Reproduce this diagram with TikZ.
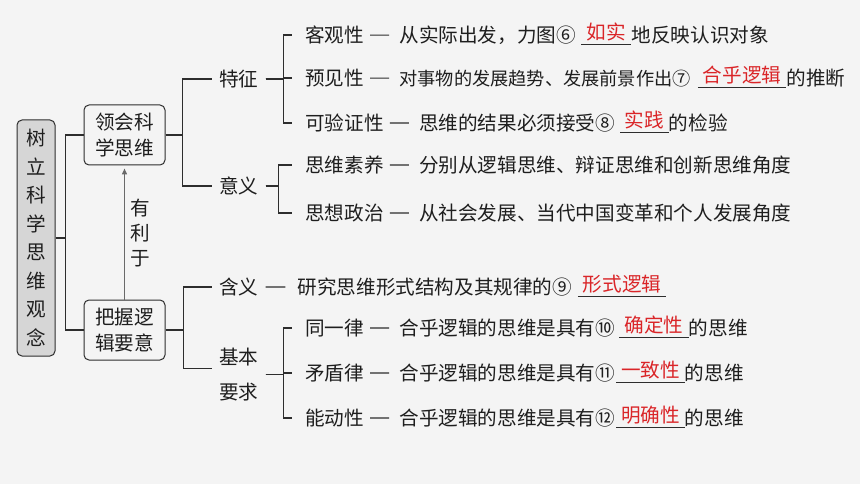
\documentclass[tikz,border=0pt]{standalone}
\usepackage{fontspec}
\setmainfont{Noto Sans CJK SC}
\usetikzlibrary{arrows.meta,positioning}
\definecolor{bgc}{RGB}{244,244,244}
\definecolor{ink}{RGB}{30,30,30}
\definecolor{rule}{RGB}{45,45,45}
\definecolor{ansred}{RGB}{218,37,40}
\definecolor{rootgray}{RGB}{214,214,214}
\definecolor{arrgray}{RGB}{105,105,105}
\newcommand{\fs}[1]{\fontsize{19.6}{#1}\selectfont}
\newcommand{\tian}[1]{\raisebox{3pt}{#1}}

\begin{document}
\begin{tikzpicture}[x=1pt,y=-1pt,font=\fs{24},text=ink,
  box/.style={draw=rule,line width=1pt,rounded corners=5pt,align=center,inner sep=0pt},
  mid/.style={anchor=west,inner xsep=7pt,inner ysep=1pt},
  lab/.style={anchor=west,inner sep=0pt},
  txt/.style={inner sep=0pt},
  ans/.style={inner sep=0pt,minimum width=#1,text=ansred},
  brk/.style={draw=rule,line width=1.1pt},
  dashl/.style={draw=rule,line width=1.1pt,shorten <=6pt,shorten >=10pt},
  uline/.style={draw=rule,line width=0.8pt},
  arr/.style={draw=arrgray,line width=1.4pt,-{Triangle[length=6pt,width=5pt]},shorten >=3pt}]
  \fill[bgc] (0,0) rectangle (860,484);

  \node[box,fill=rootgray,minimum width=38pt,minimum height=236pt,font=\fs{28.5}] (root) at (36,238) {树\\立\\科\\学\\思\\维\\观\\念};
  \node[box,minimum width=81pt,minimum height=60pt,font=\fs{26}] (lh) at (124.5,135) {领会科\\学思维};
  \node[box,minimum width=81pt,minimum height=60pt,font=\fs{26}] (bw) at (124.5,330) {把握逻\\辑要意};
  \node[align=center,inner sep=0pt,font=\fs{25}] (yl) at (140,233) {有\\利\\于};

  \node[mid] (tz) at (212,79)  {特征};
  \node[mid] (yy) at (212,186) {意义};
  \node[mid] (hy) at (212,287) {含义};
  \node[mid,align=left,font=\fs{35}] (jb) at (212,374.5) {基本\\要求};

  % 特征
  \node[lab] (kg)  at (305,35)  {客观性};
  \node[lab] (yj)  at (305,78)  {预见性};
  \node[lab] (kyz) at (305,123) {可验证性};
  \node[txt] (kgd)  [base right=35pt of kg]  {从实际出发，力图⑥};
  \node[ans=50pt] (kga) [base right=5pt of kgd] {\tian{如实}};
  \node[txt] (kgp)  [base right=0pt of kga] {地反映认识对象};
  \node[txt,font=\fontsize{18.2}{22}\selectfont] (yjd) [base right=35pt of yj] {对事物的发展趋势、发展前景作出⑦};
  \node[ans=88pt] (yja) [base right=7pt of yjd] {\tian{合乎逻辑}};
  \node[txt] (yjp)  [base right=0pt of yja] {的推断};
  \node[txt] (kyzd) [base right=35pt of kyz] {思维的结果必须接受⑧};
  \node[ans=48pt] (kyza) [base right=5pt of kyzd] {\tian{实践}};
  \node[txt] (kyzp) [base right=0pt of kyza] {的检验};

  % 意义
  \node[lab] (sw) at (305,165) {思维素养};
  \node[lab] (sx) at (305,213) {思想政治};
  \node[txt] (swd) [base right=35pt of sw] {分别从逻辑思维、辩证思维和创新思维角度};
  \node[txt] (sxd) [base right=35pt of sx] {从社会发展、当代中国变革和个人发展角度};

  % 含义
  \node[txt] (hyd) [base right=31.8pt of hy] {研究思维形式结构及其规律的⑨};
  \node[ans=88pt] (hya) [base right=5.6pt of hyd] {\tian{形式逻辑}};

  % 基本要求
  \node[lab] (ty) at (305,328) {同一律};
  \node[lab] (md) at (305,373) {矛盾律};
  \node[lab] (nd) at (305,418) {能动性};
  \node[txt] (tyd) [base right=35pt of ty] {合乎逻辑的思维是具有⑩};
  \node[ans=69pt] (tya) [base right=4pt of tyd] {\tian{确定性}};
  \node[txt] (typ) [base right=0pt of tya] {的思维};
  \node[txt] (mdd) [base right=35pt of md] {合乎逻辑的思维是具有⑪};
  \node[ans=68pt] (mda) [base right=1pt of mdd] {\tian{一致性}};
  \node[txt] (mdp) [base right=0pt of mda] {的思维};
  \node[txt] (ndd) [base right=35pt of nd] {合乎逻辑的思维是具有⑫};
  \node[ans=68pt] (nda) [base right=1pt of ndd] {\tian{明确性}};
  \node[txt] (ndp) [base right=0pt of nda] {的思维};

  % brackets
  \draw[brk] (root.east) -- ++(10,0) |- (lh.west);
  \draw[brk] (root.east) -- ++(10,0) |- (bw.west);
  \draw[brk] (lh.east) -- ++(17,0) |- (tz.west);
  \draw[brk] (lh.east) -- ++(17,0) |- (yy.west);
  \draw[brk] (bw.east) -- ++(18,0) |- (hy.west);
  \draw[brk] (bw.east) -- ++(18,0) |- ([yshift=6pt]jb.west);
  \foreach \r in {kg,yj,kyz} \draw[brk] (tz.east) -- ++(18,0) |- ([xshift=-13pt]\r.west);
  \foreach \r in {sw,sx} \draw[brk] (yy.east) -- ++(13,0) |- ([xshift=-13pt]\r.west);
  \foreach \r in {ty,md,nd} \draw[brk] (jb.east) -- ++(18,0) |- ([xshift=-13pt]\r.west);

  \draw[arr] (bw) -- (lh);

  % dashes and blanks
  \path (kg) edge[dashl] (kgd)
        (yj) edge[dashl] (yjd)
        (kyz) edge[dashl] (kyzd)
        (sw) edge[dashl] (swd)
        (sx) edge[dashl] (sxd)
        (hy) edge[dashl,shorten <=0pt,shorten >=12pt] (hyd)
        (ty) edge[dashl] (tyd)
        (md) edge[dashl] (mdd)
        (nd) edge[dashl] (ndd);
  \foreach \a in {kga,yja,kyza,hya,tya,mda,nda} \draw[uline] ([yshift=-1.5pt]\a.south west) -- ([yshift=-1.5pt]\a.south east);
\end{tikzpicture}
\end{document}
